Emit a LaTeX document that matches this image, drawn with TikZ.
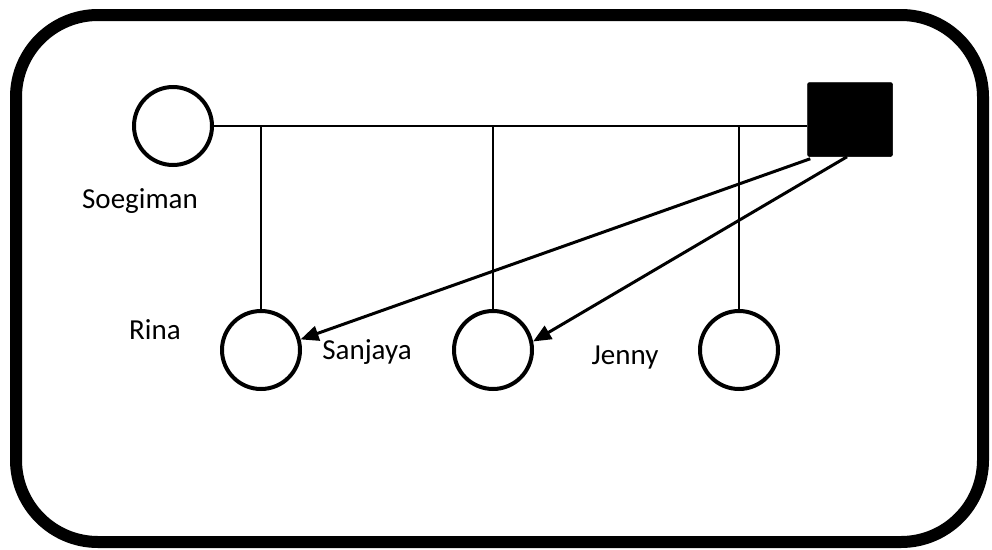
\documentclass[tikz,border=0pt]{standalone}
\usepackage{fontspec}
\setmainfont{Carlito}
\usetikzlibrary{arrows.meta}
\begin{document}
\begin{tikzpicture}[x=1pt,y=-1pt,
  person/.style={draw=black,circle,line width=4pt,minimum size=78pt,inner sep=0pt,fill=white},
  male/.style={fill=black,draw=black,line width=0.5pt,rounded corners=2pt,minimum width=85pt,minimum height=74pt,inner sep=0pt},
  thin/.style={line width=1.3pt},
  arr/.style={line width=3pt,-{Triangle[length=18pt,width=15pt]}},
  lbl/.style={font=\fontsize{29}{33}\selectfont,inner sep=0pt}]
\useasboundingbox (0,0) rectangle (992,549);
\draw[line width=12pt,rounded corners=82pt] (16,15) rectangle (983,542);
\node[person] (s) at (173,126) {};
\node[male] (sq) at (850,119.5) {};
\node[person] (c1) at (261,350) {};
\node[person] (c2) at (493,350) {};
\node[person] (c3) at (739,350) {};
\node[lbl] (ls) at (140,201) {Soegiman};
\node[lbl] (lr) at (155,330) {Rina};
\node[lbl] (lsj) at (367,352) {Sanjaya};
\node[lbl] (lj) at (625,358) {Jenny};
\draw[thin] (s.east) -- (s.east -| sq.west);
\draw[thin] (c1.north |- s.east) -- (c1.north);
\draw[thin] (c2.north |- s.east) -- (c2.north);
\draw[thin] (c3.north |- s.east) -- (c3.north);
\draw[arr] ([xshift=3pt,yshift=-2pt]sq.south west) -- (c1.15);
\draw[arr] ([xshift=-3pt]sq.south) -- (c2.12);
\end{tikzpicture}
\end{document}
